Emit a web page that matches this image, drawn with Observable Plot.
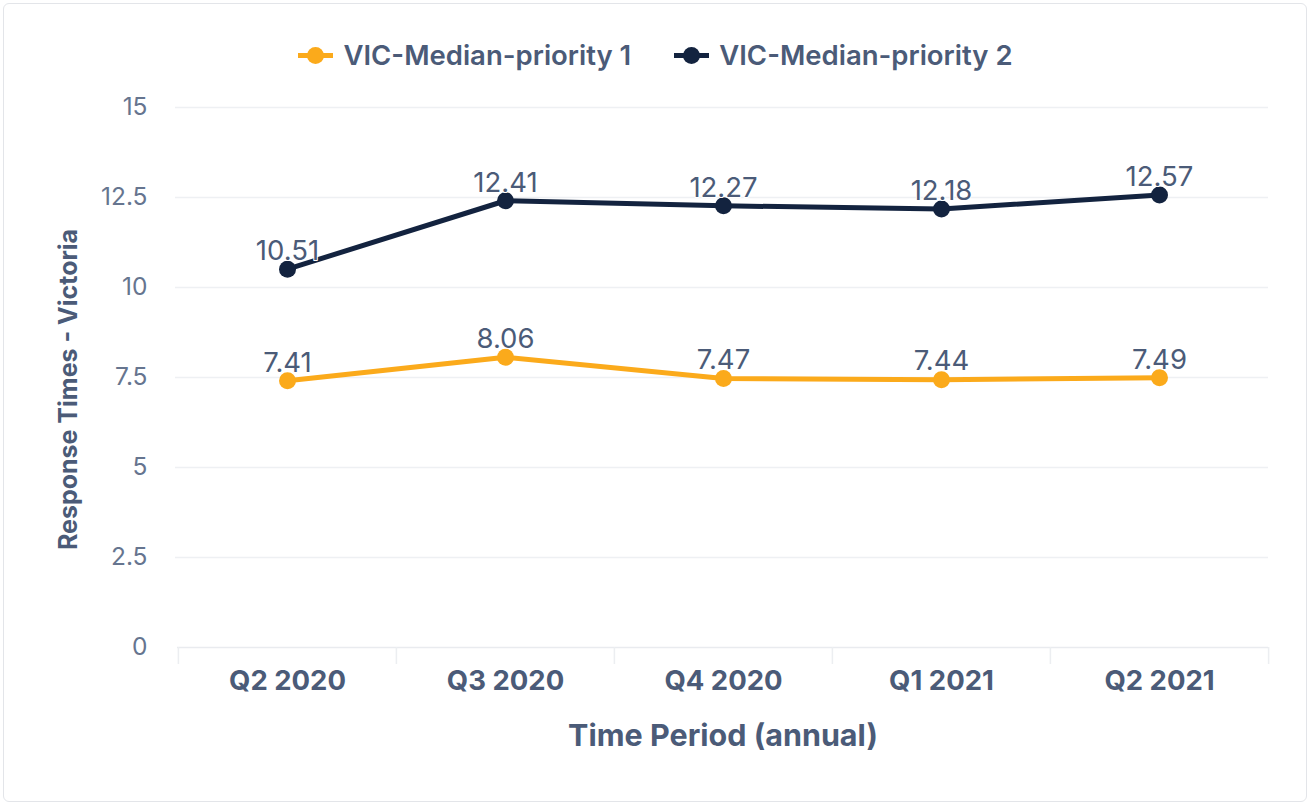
<!DOCTYPE html>
<html><head><meta charset="utf-8">
<script src="https://cdn.jsdelivr.net/npm/d3@7"></script>
<script src="https://cdn.jsdelivr.net/npm/@observablehq/plot@0.6"></script>
<style>
  html, body { margin: 0; padding: 0; background: #fff; width: 1311px; height: 807px; overflow: hidden; font-family: Inter, "Noto Sans", sans-serif; }
  #frame { position: absolute; left: 3px; top: 3px; width: 1304px; height: 799px; box-sizing: border-box; border: 1.5px solid #e3e5e9; border-radius: 6px; }
  #legend { position: absolute; left: 0; top: 38px; width: 1311px; height: 34px; display: flex; justify-content: center; align-items: center; gap: 43px; }
  .item { display: flex; align-items: center; gap: 10px; font-size: 27.5px; font-weight: 600; color: #4b5b78; }
  .mk { position: relative; width: 35px; height: 18px; }
  .mk .ln { position: absolute; left: 0; top: 6.5px; width: 35px; height: 5px; }
  .mk .ct { position: absolute; left: 9px; top: 0.5px; width: 17px; height: 17px; border-radius: 50%; }
  #chart { position: absolute; left: 0; top: 90px; }
</style></head>
<body>
<div id="frame"></div>
<div id="legend"></div>
<div id="chart"></div>
<script>
const periods = ["Q2 2020", "Q3 2020", "Q4 2020", "Q1 2021", "Q2 2021"];
const priority1 = [7.41, 8.06, 7.47, 7.44, 7.49];
const priority2 = [10.51, 12.41, 12.27, 12.18, 12.57];
const seriesNames = ["VIC-Median-priority 1", "VIC-Median-priority 2"];
const seriesColors = ["#FBAA1B", "#13233F"];
const yTicks = [0, 2.5, 5, 7.5, 10, 12.5, 15];
const yTitle = "Response Times - Victoria";
const xTitle = "Time Period (annual)";

const rows = [];
[priority1, priority2].forEach((vals, s) => {
  vals.forEach((v, i) => rows.push({period: periods[i], value: v, series: seriesNames[s]}));
});

// legend
const legend = document.getElementById("legend");
seriesNames.forEach((name, i) => {
  const it = document.createElement("div");
  it.className = "item";
  it.innerHTML = `<span class="mk"><span class="ln" style="background:${seriesColors[i]}"></span><span class="ct" style="background:${seriesColors[i]}"></span></span><span>${name}</span>`;
  legend.appendChild(it);
});

const W = 1311, H = 717;
const mL = 177, mR = 43, mT = 17, mB = 160;
const step = (W - mL - mR) / periods.length;
const tickLen = -17 * 15 / (H - mT - mB);
const textColor = "#4b5b78";
const font = "Inter, 'Noto Sans', sans-serif";

const chart = Plot.plot({
  width: W, height: H,
  marginLeft: mL, marginRight: mR, marginTop: mT, marginBottom: mB,
  style: {fontFamily: font, background: "transparent", overflow: "visible"},
  x: {type: "point", domain: periods, padding: 0.5, axis: null},
  y: {domain: [0, 15], axis: null},
  color: {domain: seriesNames, range: seriesColors},
  marks: [
    Plot.ruleY(yTicks.filter(d => d > 0), {y: d => d, stroke: "#eef0f3", strokeWidth: 1.5, insetLeft: -2}),
    Plot.ruleY([0], {stroke: "#e9ebef", strokeWidth: 1.5}),
    Plot.ruleX(periods, {x: d => d, y1: 0, y2: tickLen, dx: -step / 2, stroke: "#eceef1", strokeWidth: 1.5}),
    Plot.ruleX([periods[periods.length - 1]], {x: d => d, y1: 0, y2: tickLen, dx: step / 2, stroke: "#eceef1", strokeWidth: 1.5}),
    Plot.text(yTicks, {y: d => d, text: d => String(d), frameAnchor: "left", textAnchor: "end", dx: -30, fontSize: 24.5, fill: "#66758f"}),
    Plot.text(periods, {x: d => d, y: 0, text: d => d, dy: 34, fontSize: 27.5, fontWeight: 700, fill: textColor}),
    Plot.text([yTitle], {text: d => d, frameAnchor: "left", textAnchor: "middle", rotate: -90, dx: -109, dy: 12, fontSize: 25, fontWeight: 700, fill: textColor}),
    Plot.text([xTitle], {text: d => d, frameAnchor: "bottom", dy: 98, fontSize: 30.5, fontWeight: 700, fill: textColor}),
    Plot.line(rows, {x: "period", y: "value", stroke: "series", z: "series", strokeWidth: 5}),
    Plot.dot(rows, {x: "period", y: "value", fill: "series", r: 8.5}),
    Plot.text(rows, {x: "period", y: "value", text: d => d.value.toFixed(2), dy: -18, fontSize: 27.5, fill: textColor, stroke: "white", strokeWidth: 2})
  ]
});
document.getElementById("chart").appendChild(chart);
</script>
</body></html>
